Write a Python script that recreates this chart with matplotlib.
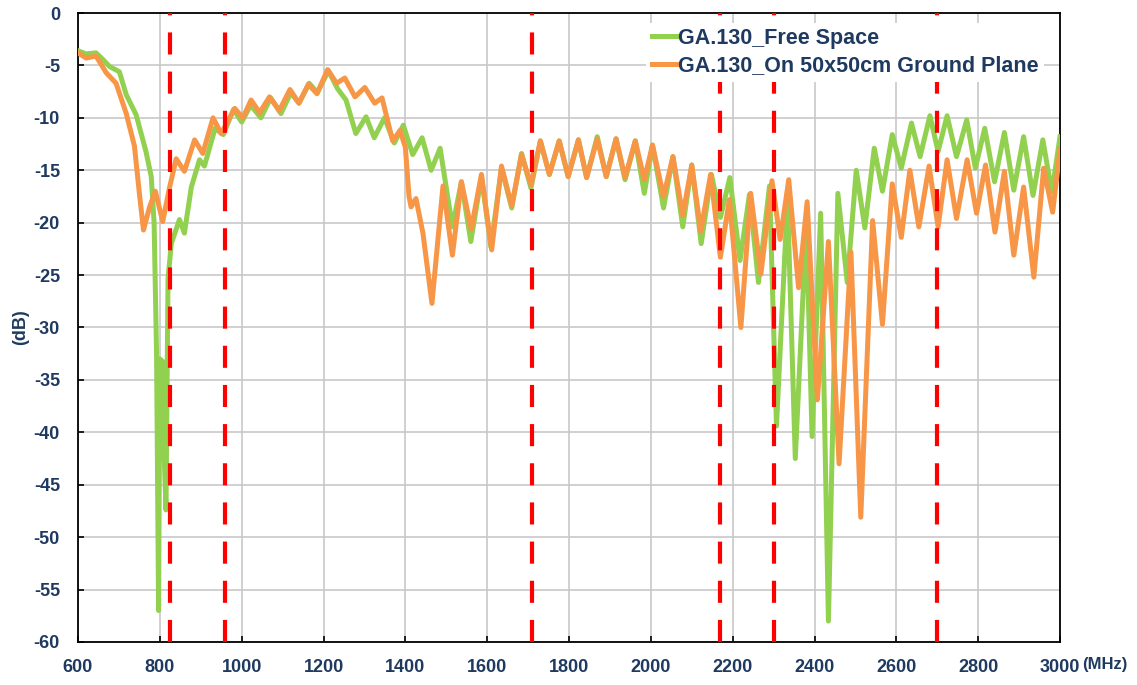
import matplotlib
matplotlib.use("Agg")
import matplotlib.pyplot as plt

# Free Space (green) trace
green_mhz = [600, 620, 644, 660, 677, 701, 718, 742, 766, 779, 786, 792, 797, 800, 806, 809, 815, 820,
             828, 848, 860, 877, 897, 909, 935, 955, 980, 1000, 1022, 1047, 1071, 1096, 1120, 1140,
             1165, 1185, 1212, 1234, 1255, 1279, 1304, 1324, 1349, 1373, 1395, 1418, 1441, 1463, 1485,
             1515, 1537, 1560, 1586, 1609, 1635, 1660, 1684, 1707, 1730, 1752, 1776, 1798, 1823, 1843,
             1869, 1891, 1915, 1937, 1962, 1984, 2004, 2031, 2054, 2078, 2100, 2123, 2148, 2170, 2193,
             2218, 2241, 2263, 2290, 2307, 2334, 2353, 2380, 2394, 2415, 2434, 2457, 2480, 2502, 2523,
             2546, 2566, 2590, 2612, 2637, 2658, 2682, 2702, 2724, 2747, 2772, 2793, 2816, 2840, 2864,
             2887, 2911, 2934, 2958, 2980, 3000]
green_db = [-3.6, -3.9, -3.8, -4.4, -5.1, -5.6, -7.8, -9.7, -13.2, -15.6, -20.0, -32.5, -57.0, -33.0, -33.2,
            -40.0, -47.4, -25.4, -22.0, -19.7, -21.0, -16.6, -14.0, -14.6, -11.0, -11.6, -9.2, -10.4, -8.8,
            -10.0, -8.1, -9.6, -7.6, -8.6, -6.7, -7.6, -5.5, -7.2, -8.3, -11.5, -9.9, -11.9, -10.0, -12.4,
            -10.7, -13.5, -11.9, -15.0, -12.9, -20.4, -16.1, -21.8, -15.6, -22.3, -14.8, -18.6, -13.4,
            -16.7, -12.2, -15.4, -12.2, -15.6, -12.1, -15.7, -11.8, -15.6, -12.0, -15.9, -12.2, -17.2,
            -12.6, -18.6, -13.7, -20.4, -14.5, -22.0, -15.4, -19.5, -15.7, -23.6, -17.3, -25.7, -16.5,
            -39.4, -17.8, -42.5, -20.1, -40.4, -19.1, -58.0, -17.2, -25.7, -15.0, -20.5, -12.9, -17.0,
            -11.6, -14.8, -10.5, -13.7, -9.8, -13.2, -9.8, -13.7, -10.2, -14.8, -11.0, -16.1, -11.4,
            -16.9, -11.8, -17.4, -12.1, -17.1, -11.8]

# On 50x50cm Ground Plane (orange) trace
orange_mhz = [600, 620, 644, 669, 693, 718, 738, 750, 760, 775, 789, 807, 824, 840, 860, 885, 905, 930,
              950, 983, 1003, 1023, 1044, 1068, 1092, 1118, 1140, 1163, 1184, 1210, 1232, 1252, 1277,
              1301, 1325, 1343, 1369, 1387, 1400, 1409, 1414, 1426, 1443, 1465, 1492, 1515, 1537, 1561,
              1586, 1611, 1635, 1660, 1684, 1707, 1730, 1752, 1776, 1798, 1823, 1843, 1869, 1891, 1915,
              1937, 1962, 1984, 2004, 2031, 2054, 2078, 2100, 2122, 2146, 2170, 2192, 2220, 2244, 2269,
              2296, 2316, 2337, 2361, 2382, 2407, 2434, 2460, 2489, 2513, 2542, 2566, 2590, 2612, 2633,
              2655, 2680, 2702, 2724, 2747, 2773, 2796, 2818, 2841, 2864, 2887, 2911, 2936, 2960, 2982,
              3000]
orange_db = [-3.8, -4.3, -4.1, -5.7, -6.7, -9.6, -12.7, -17.2, -20.7, -18.5, -17.0, -19.9, -16.6, -13.9,
             -15.1, -12.1, -13.4, -10.0, -11.5, -9.1, -10.0, -8.3, -9.5, -8.0, -9.3, -7.3, -8.6, -6.8,
             -7.7, -5.4, -6.7, -6.2, -8.0, -7.1, -8.6, -8.1, -12.2, -11.2, -12.8, -17.5, -18.5, -17.7,
             -21.0, -27.7, -16.5, -23.1, -16.1, -20.6, -15.4, -22.6, -14.6, -18.4, -13.5, -16.4, -12.2,
             -15.4, -12.2, -15.6, -12.1, -15.7, -12.0, -15.6, -12.0, -15.7, -12.2, -15.9, -12.6, -17.5,
             -13.7, -19.3, -14.5, -20.8, -15.4, -23.3, -17.8, -30.0, -17.2, -24.9, -16.0, -21.6, -15.9,
             -26.2, -18.0, -36.9, -21.8, -43.0, -22.8, -48.1, -19.8, -29.7, -16.3, -21.4, -15.0, -20.4,
             -14.6, -20.4, -14.0, -19.6, -14.0, -19.1, -14.5, -20.9, -15.1, -23.1, -16.6, -25.2, -14.8,
             -19.0, -13.0]

# band edges (red dashed markers)
band_edges = [824, 960, 1710, 2170, 2300, 2700]

labels = ["GA.130_Free Space", "GA.130_On 50x50cm Ground Plane"]
navy = "#1F3A60"

plt.rcParams["font.family"] = ["Liberation Sans", "DejaVu Sans"]
plt.rcParams["axes.unicode_minus"] = False

fig = plt.figure(figsize=(11.37, 6.85), dpi=100)
ax = fig.add_axes([0.0686, 0.0628, 0.8637, 0.9182])

ax.plot(green_mhz, green_db, color="#92D050", lw=3.6, solid_joinstyle="round", label=labels[0], zorder=3)
ax.plot(orange_mhz, orange_db, color="#F79646", lw=3.6, solid_joinstyle="round", label=labels[1], zorder=4)

for f in band_edges:
    ax.axvline(f, color="#FF0000", lw=3.0, dashes=(5.3, 4.1), zorder=5)

ax.set_xlim(600, 3000)
ax.set_ylim(-60, 0)
ax.set_xticks(range(600, 3001, 200))
ax.set_yticks(range(-60, 1, 5))
ax.grid(True, color="#C8C8C8", lw=1.2, zorder=0)
ax.set_axisbelow(True)

for s in ax.spines.values():
    s.set_color("black")
    s.set_linewidth(1.3)

ax.tick_params(axis="both", direction="in", length=4, width=1.2, colors="black",
               labelcolor=navy, labelsize=13)
ax.tick_params(axis="y", pad=13)
ax.tick_params(axis="x", pad=12)
for t in ax.get_xticklabels() + ax.get_yticklabels():
    t.set_fontweight("bold")

ax.set_ylabel("(dB)", color=navy, fontsize=13, fontweight="bold", labelpad=3)
ax.text(1.023, -0.024, "(MHz)", transform=ax.transAxes, color=navy, fontsize=12,
        fontweight="bold", ha="left", va="top")

leg = ax.legend(loc="upper left", bbox_to_anchor=(0.572, 0.995), frameon=True, fontsize=15.5,
                handlelength=1.15, handletextpad=0.1, borderpad=0.25, labelspacing=0.3,
                borderaxespad=0.3)
leg.get_frame().set_facecolor("white")
leg.get_frame().set_edgecolor("none")
leg.get_frame().set_alpha(1.0)
for t in leg.get_texts():
    t.set_color(navy)
    t.set_fontweight("bold")
leg.set_zorder(10)

fig.savefig("out.png", dpi=100)
